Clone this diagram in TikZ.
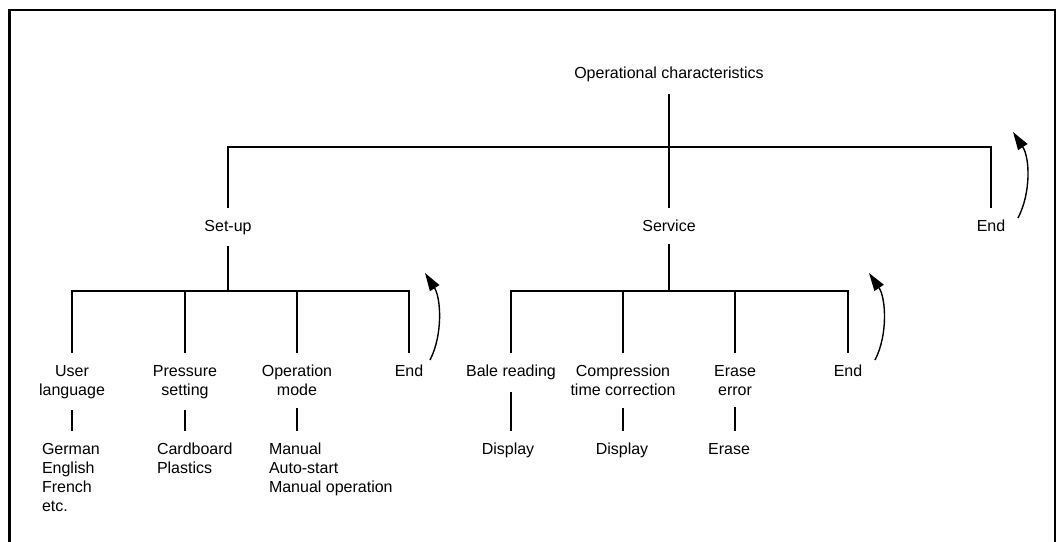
\documentclass[tikz,border=0pt]{standalone}
\usepackage{fontspec}
\setmainfont{Liberation Sans}
\usetikzlibrary{arrows.meta}

\begin{document}
\begin{tikzpicture}[x=1pt,y=-1pt,
  every node/.style={font=\fontsize{16}{19}\selectfont, inner sep=0pt, outer sep=12pt, align=center},
  bar/.style={line width=2.6pt},
  back/.style={line width=1.4pt, -{Triangle[length=18pt,width=11pt]}}]
\useasboundingbox (0,0) rectangle (1057,541);
\draw[line width=2.4pt] (9.5,560) -- (9.5,10) -- (1055,10) -- (1055,560);

\node (r) at (669,94) [anchor=south] {Operational characteristics};

\node (a1) at (228,208) [anchor=north] {Set-up};
\node (a2) at (669,208) [anchor=north] {Service};
\node (a3) at (991,208) [anchor=north] {End};

\node (b1) at (72,353) [anchor=north] {User\\language};
\node (b2) at (185,353) [anchor=north] {Pressure\\setting};
\node (b3) at (297,353) [anchor=north] {Operation\\mode};
\node (b4) at (409,353) [anchor=north] {End};

\node (c1) at (511,353) [anchor=north] {Bale reading};
\node (c2) at (623,353) [anchor=north] {Compression\\time correction};
\node (c3) at (735,353) [anchor=north] {Erase\\error};
\node (c4) at (848,353) [anchor=north] {End};

\node (d1) at (30,431) [anchor=north west, align=left] {German\\English\\French\\etc.};
\node (d2) at (145,431) [anchor=north west, align=left] {Cardboard\\Plastics};
\node (d3) at (257,431) [anchor=north west, align=left] {Manual\\Auto-start\\Manual operation};

\node (e1) at (508,431) [anchor=north] {Display};
\node (e2) at (622,431) [anchor=north] {Display};
\node (e3) at (729,431) [anchor=north] {Erase};

\coordinate (j0) at (669,147);
\coordinate (j1) at (228,291);
\coordinate (j2) at (669,291);

\draw[bar] (r) -- (j0);
\draw[bar] (a1) |- (j0) -| (a3);
\draw[bar] (j0) -- (a2);

\draw[bar] (a1) -- (j1);
\draw[bar] (b1) |- (j1) -| (b4);
\draw[bar] (b2) -- (b2 |- j1);
\draw[bar] (b3) -- (b3 |- j1);

\draw[bar] (a2) -- (j2);
\draw[bar] (c1) |- (j2) -| (c4);
\draw[bar] (c2) -- (c2 |- j2);
\draw[bar] (c3) -- (c3 |- j2);

\draw[bar] (b1) -- (b1 |- d1.north);
\draw[bar] (b2) -- (b2 |- d2.north);
\draw[bar] (b3) -- (b3 |- d3.north);
\draw[bar] (c1) -- (c1 |- e1.north);
\draw[bar] (c2) -- (c2 |- e2.north);
\draw[bar] (c3) -- (c3 |- e3.north);

\coordinate (t1) at (1018,218);
\coordinate (t2) at (1013,132);
\coordinate (u1) at (430,360);
\coordinate (u2) at (425,273);
\coordinate (v1) at (875,360);
\coordinate (v2) at (869,273);

\draw[back] (t1) .. controls (1031,193) and (1030,158) .. (t2);
\draw[back] (u1) .. controls (443,335) and (441,298) .. (u2);
\draw[back] (v1) .. controls (888,335) and (886,298) .. (v2);
\end{tikzpicture}
\end{document}
